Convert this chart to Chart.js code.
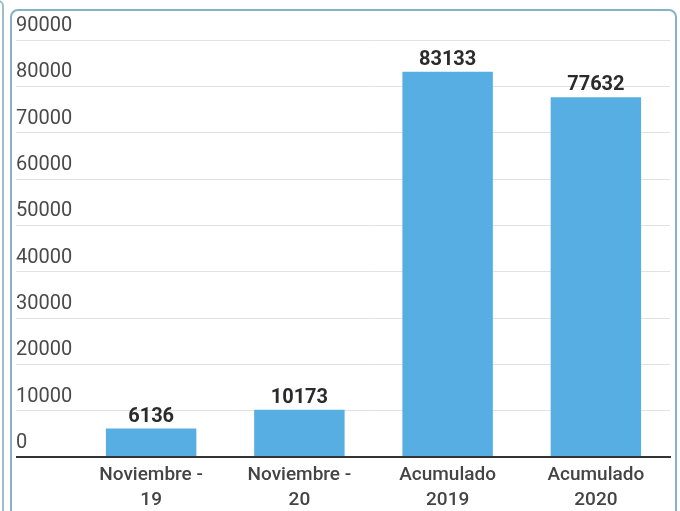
<!DOCTYPE html>
<html>
<head>
<meta charset="utf-8">
<script src="https://cdn.jsdelivr.net/npm/chart.js@4"></script>
<style>
  html, body { margin: 0; padding: 0; background: #fff; }
  body { width: 680px; height: 511px; position: relative; overflow: hidden; }
  .box { position: absolute; left: 10px; top: 9px; width: 663px; height: 530px;
         border: 2px solid #86b2c8; border-radius: 8px; }
  .prev { position: absolute; left: -12px; top: 0px; width: 12px; height: 530px;
          border: 2px solid #9fbccb; border-radius: 6px; }
  #wrap { position: absolute; left: 0; top: 0; width: 680px; height: 511px; }
</style>
</head>
<body>
<div class="prev"></div>
<div class="box"></div>
<div id="wrap"><canvas id="chart"></canvas></div>
<script>
const categories = [['Noviembre -', '19'], ['Noviembre -', '20'], ['Acumulado', '2019'], ['Acumulado', '2020']];
const values = [6136, 10173, 83133, 77632];
const yTicks = [0, 10000, 20000, 30000, 40000, 50000, 60000, 70000, 80000, 90000];

const barColor = '#56aee3';

const valueLabels = {
    id: 'valueLabels',
    afterDatasetsDraw(chart)
    {
        const ctx = chart.ctx;
        const meta = chart.getDatasetMeta(0);
        ctx.save();
        ctx.font = 'bold 20px Roboto';
        ctx.fillStyle = '#2b2b2b';
        ctx.textAlign = 'center';
        ctx.textBaseline = 'alphabetic';
        meta.data.forEach((bar, i) => {
            ctx.fillText(String(values[i]), bar.x, bar.y - 7);
        });
        ctx.restore();
    }
};

new Chart(document.getElementById('chart'), {
    type: 'bar',
    data: {
        labels: categories,
        datasets: [{
            data: values,
            backgroundColor: barColor,
            barPercentage: 0.61,
            categoryPercentage: 1
        }]
    },
    options: {
        responsive: true,
        maintainAspectRatio: false,
        animation: false,
        layout: { padding: { left: 16, right: 10, top: 40, bottom: 0 } },
        plugins: { legend: { display: false }, tooltip: { enabled: false } },
        scales: {
            x: {
                grid: { display: false, drawTicks: false },
                border: { display: true, color: '#333', width: 2 },
                ticks: {
                    color: '#444',
                    font: { family: 'Roboto', size: 19, weight: '500', lineHeight: 1.3 },
                    padding: 6,
                    maxRotation: 0,
                    autoSkip: false
                },
                afterFit: (scale) => { scale.height = 54; }
            },
            y: {
                min: 0,
                max: 90000,
                afterBuildTicks: (scale) => { scale.ticks = yTicks.map(v => ({ value: v })); },
                border: { display: false },
                grid: {
                    color: (c) => c.tick && c.tick.value === 0 ? '#333' : '#e2e2e2',
                    lineWidth: (c) => c.tick && c.tick.value === 0 ? 2 : 1,
                    drawTicks: true,
                    tickLength: 61
                },
                ticks: {
                    color: '#4a4a4a',
                    font: { family: 'Roboto', size: 20 },
                    crossAlign: 'far',
                    labelOffset: -14,
                    padding: 0,
                    callback: (v) => String(v)
                },
                afterFit: (scale) => { scale.width = 61; }
            }
        }
    },
    plugins: [valueLabels]
});
</script>
</body>
</html>
